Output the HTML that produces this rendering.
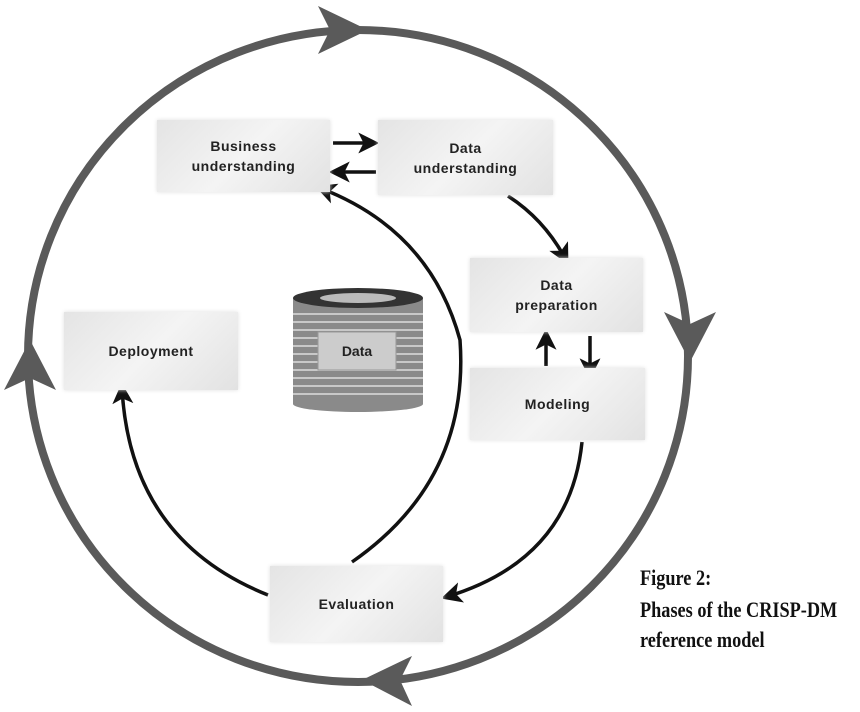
<!DOCTYPE html>
<html><head><style>
body{margin:0;background:#fff;width:860px;height:712px;overflow:hidden;position:relative;font-family:"Liberation Sans",sans-serif}
.b{position:absolute;background:linear-gradient(135deg,#e4e4e4,#f4f4f4 50%,#e2e2e2);box-shadow:0 0 4px #ddd;display:flex;align-items:center;justify-content:center;text-align:center;font-weight:bold;font-size:14px;color:#222;line-height:20px;letter-spacing:0.5px}
.cap{position:absolute;left:640px;font-family:"Liberation Serif",serif;font-weight:bold;font-size:22px;transform:scaleX(0.83);transform-origin:left;white-space:nowrap;color:#111}
</style></head><body>
<svg width="860" height="712" style="position:absolute;left:0;top:0">
<defs>
<marker id="a" markerWidth="6" markerHeight="6" refX="4.5" refY="3" orient="auto" markerUnits="strokeWidth"><path d="M0,0 L6,3 L0,6 L1.5,3z" fill="#111"/></marker>
</defs>
<ellipse cx="358" cy="356" rx="330" ry="326" fill="none" stroke="#5a5a5a" stroke-width="8"/>
<g fill="#5a5a5a">
<path d="M318,6 L368,30 L318,54 L330,30z"/>
<path d="M664,312 L690,362 L716,312 L690,324z"/>
<path d="M412,656 L362,680 L412,706 L400,680z"/>
<path d="M4,390 L30,340 L56,390 L30,378z"/>
</g>
<g fill="none" stroke="#111" stroke-width="3.5">
<path d="M333,143 L374,143" marker-end="url(#a)"/>
<path d="M376,172 L334,172" marker-end="url(#a)"/>
<path d="M508,196 Q545,220 566,260" marker-end="url(#a)"/>
<path d="M546,366 L546,334" marker-end="url(#a)"/>
<path d="M590,336 L590,374" marker-end="url(#a)"/>
<path d="M582,442 Q570,560 446,597" marker-end="url(#a)"/>
<path d="M352,562 Q470,480 460,340 Q430,230 320,188" marker-end="url(#a)"/>
<path d="M268,595 Q130,540 122,388" marker-end="url(#a)"/>
</g>
<g>
<rect x="293" y="298" width="130" height="106" fill="#8a8a8a"/>
<g stroke="#c8c8c8" stroke-width="2">
<line x1="293" y1="314" x2="423" y2="314"/><line x1="293" y1="322" x2="423" y2="322"/><line x1="293" y1="330" x2="423" y2="330"/><line x1="293" y1="338" x2="423" y2="338"/><line x1="293" y1="346" x2="423" y2="346"/><line x1="293" y1="354" x2="423" y2="354"/><line x1="293" y1="362" x2="423" y2="362"/><line x1="293" y1="370" x2="423" y2="370"/><line x1="293" y1="378" x2="423" y2="378"/><line x1="293" y1="386" x2="423" y2="386"/><line x1="293" y1="394" x2="423" y2="394"/>
</g>
<ellipse cx="358" cy="404" rx="65" ry="8" fill="#8a8a8a"/>
<ellipse cx="358" cy="298" rx="65" ry="10" fill="#333"/>
<ellipse cx="358" cy="298" rx="38" ry="5" fill="#bbb"/>
<rect x="318" y="332" width="78" height="38" fill="#ccc" stroke="#999"/>
</g>
</svg>
<div class="b" style="left:157px;top:120px;width:173px;height:72px">Business<br>understanding</div>
<div class="b" style="left:378px;top:120px;width:175px;height:75px">Data<br>understanding</div>
<div class="b" style="left:470px;top:258px;width:173px;height:74px">Data<br>preparation</div>
<div class="b" style="left:470px;top:368px;width:175px;height:72px">Modeling</div>
<div class="b" style="left:64px;top:312px;width:174px;height:78px">Deployment</div>
<div class="b" style="left:270px;top:566px;width:173px;height:76px">Evaluation</div>
<div style="position:absolute;left:318px;top:332px;width:78px;height:38px;display:flex;align-items:center;justify-content:center;font-weight:bold;font-size:14px;color:#222">Data</div>
<div class="cap" style="top:565px">Figure 2:</div>
<div class="cap" style="top:597px">Phases of the CRISP-DM</div>
<div class="cap" style="top:627px">reference model</div>
</body></html>
